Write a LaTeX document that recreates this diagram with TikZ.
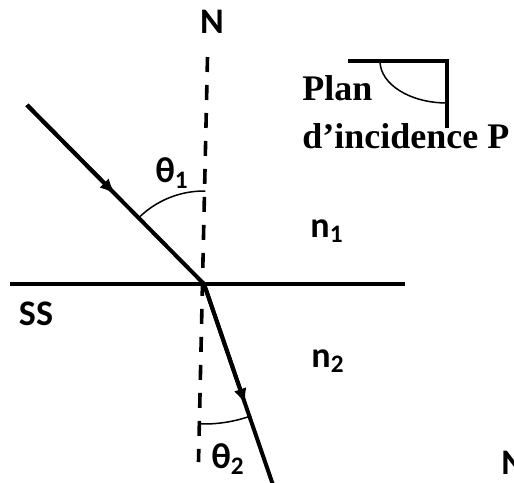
\documentclass[tikz,border=0pt]{standalone}
\usepackage{fontspec}
\setmainfont{Carlito}
\newfontfamily\timesfont{Liberation Serif}
\usetikzlibrary{arrows.meta,calc,angles}

\begin{document}
\begin{tikzpicture}[x=0.5pt,y=-0.5pt,
  ray/.style={line width=2pt},
  tip/.style={line width=2pt,-{Latex[length=8pt,width=6.5pt]}},
  normal/.style={line width=1.8pt,dash pattern=on 7.5pt off 6.5pt},
  angarc/.style={draw,line width=0.75pt},
  lab/.style={inner sep=0pt,font=\bfseries\fontsize{18}{21}\selectfont},
  plan/.style={inner sep=0pt,anchor=base west,font=\timesfont\bfseries\fontsize{18}{21}\selectfont}]
\useasboundingbox (0,0) rectangle (514,482);
% points of the figure
\coordinate (A) at (27,105);
\coordinate (O) at (204,284);
\coordinate (R) at (273,485);
\coordinate (Ntop) at (207.5,57);
\coordinate (Nbot) at (198.5,462);
\coordinate (S1) at (10,284);
\coordinate (S2) at (405,284);
\coordinate (Ma) at ($(A)!0.5!(O)$);
\coordinate (Mr) at ($(O)!0.6!(R)$);
% surface and normal
\draw[ray] (S1) -- (S2);
\draw[normal] (Ntop) -- (Nbot);
% incident and refracted rays
\draw[ray] (A) -- (O) -- (R);
\draw[tip] (A) -- (Ma);
\draw[tip] (O) -- (Mr);
\pic[angarc,angle radius=46.5pt] {angle=Ntop--O--A};
\pic[angarc,angle radius=70pt] {angle=Nbot--O--R};
% labels
\node[lab] (N) at (212,22) {N};
\node[lab] (t1) at (172,173) {θ\textsubscript{1}};
\node[lab] (n1) at (327,231) {n\textsubscript{1}};
\node[lab] (SS) at (36,314) {SS};
\node[lab] (n2) at (328,361) {n\textsubscript{2}};
\node[lab] (t2) at (228,459) {θ\textsubscript{2}};
\node[lab,anchor=north west] (N2) at (501,451) {N};
% plane of incidence
\coordinate (P1) at (348,61);
\coordinate (P2) at (447,61);
\coordinate (P3) at (447,128);
\draw[line width=2pt] (P1) -- (P2) -- (P3);
\draw[line width=0.75pt] (380,61) arc[start angle=180,end angle=270,x radius=33.5pt,y radius=21pt];
\node[plan] (plan) at (302,100) {Plan};
\node[plan] (incid) at (302,148) {d’incidence P};
\end{tikzpicture}
\end{document}
